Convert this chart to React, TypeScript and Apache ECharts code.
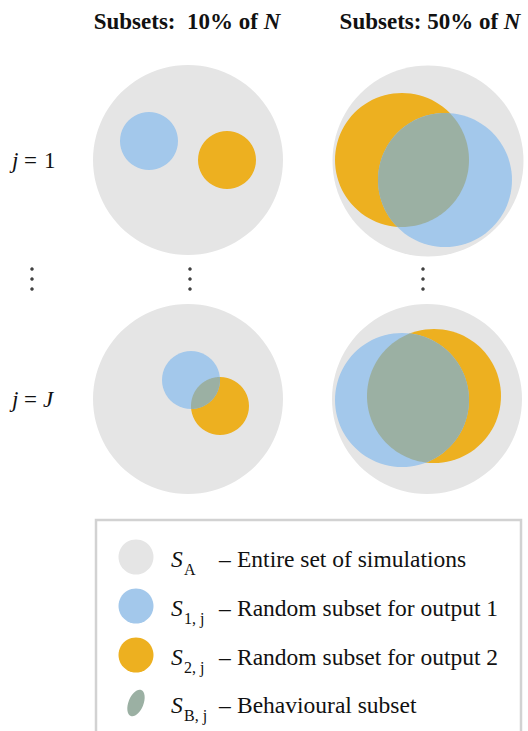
import React, { useEffect, useRef } from "react";
import * as echarts from "echarts";

// ---- data (pixel-like units on a hidden 528 x 731 value scale) ----
const columnTitles = ["Subsets:  10% of ", "Subsets: 50% of "];
const rowLabelsRight = ["1", "J"];
// [cx, cy, r] for each panel: top-left, top-right, bottom-left, bottom-right
const entireSet = [
  [188, 160, 95],
  [428, 161, 95.5],
  [188, 399, 95],
  [427, 399, 95],
];
const subset1 = [
  [149, 141, 29],
  [445, 180, 67],
  [191, 380, 29],
  [402, 400, 67],
];
const subset2 = [
  [227, 160, 29],
  [402, 160, 67],
  [220, 406, 29],
  [434, 396, 67],
];
const ellipsisDots = [
  [32, 269], [32, 279], [32, 289],
  [190, 269], [190, 279], [190, 289],
  [423, 269], [423, 279], [423, 289],
];
const legendSubscripts = ["A", "1, j", "2, j", "B, j"];
const legendDescriptions = [
  "Entire set of simulations",
  "Random subset for output 1",
  "Random subset for output 2",
  "Behavioural subset",
];

const GRAY = "#E5E5E5";
const BLUE = "#A3C8EB";
const ORANGE = "#EDB020";
const GREEN = "#9BB0A3";
const FONT = "Liberation Serif";

function circleSeries(data: number[][], color: string) {
  return {
    type: "custom",
    coordinateSystem: "cartesian2d",
    data,
    encode: { x: 0, y: 1 },
    silent: true,
    renderItem: (_p: any, api: any) => {
      const c = api.coord([api.value(0), api.value(1)]);
      const r = api.size([api.value(2), 0])[0];
      return { type: "circle", shape: { cx: c[0], cy: c[1], r }, style: { fill: color } };
    },
  };
}

function lensPoints(x1: number, y1: number, r1: number, x2: number, y2: number, r2: number) {
  const dx = x2 - x1, dy = y2 - y1;
  const d = Math.sqrt(dx * dx + dy * dy);
  if (d >= r1 + r2) return [];
  const phi = Math.atan2(dy, dx);
  const a1 = (r1 * r1 - r2 * r2 + d * d) / (2 * d);
  const a2 = d - a1;
  const t1 = Math.acos(Math.max(-1, Math.min(1, a1 / r1)));
  const t2 = Math.acos(Math.max(-1, Math.min(1, a2 / r2)));
  const pts: number[][] = [];
  const n = 80;
  for (let i = 0; i <= n; i++) {
    const ang = phi - t1 + (2 * t1 * i) / n;
    pts.push([x1 + r1 * Math.cos(ang), y1 + r1 * Math.sin(ang)]);
  }
  for (let i = 0; i <= n; i++) {
    const ang = phi + Math.PI - t2 + (2 * t2 * i) / n;
    pts.push([x2 + r2 * Math.cos(ang), y2 + r2 * Math.sin(ang)]);
  }
  return pts;
}

const lensData = subset1.map((s, i) => [...s, ...subset2[i]]);

export default function App() {
  const ref = useRef<HTMLDivElement>(null);
  useEffect(() => {
    document.body.style.margin = "0";
    const chart = echarts.init(ref.current!, null, { renderer: "svg" });

    const graphic: any[] = [];
    // column titles
    const titleX = [187, 430];
    columnTitles.forEach((t, i) => {
      graphic.push({
        type: "text",
        x: titleX[i],
        y: 21,
        style: {
          text: `{b|${t}}{bi|N}`,
          align: "center",
          verticalAlign: "middle",
          rich: {
            b: { fontFamily: FONT, fontWeight: "bold", fontSize: 23, fill: "#111" },
            bi: { fontFamily: FONT, fontWeight: "bold", fontStyle: "italic", fontSize: 23, fill: "#111" },
          },
        },
      });
    });
    // row labels
    const rowY = [160, 399];
    rowLabelsRight.forEach((r, i) => {
      graphic.push({
        type: "text", x: 12, y: rowY[i],
        style: { text: "j", fontFamily: FONT, fontStyle: "italic", fontSize: 23, fill: "#111", verticalAlign: "middle" },
      });
      graphic.push({
        type: "text", x: 24, y: rowY[i],
        style: { text: "=", fontFamily: FONT, fontSize: 23, fill: "#111", verticalAlign: "middle" },
      });
      graphic.push({
        type: "text", x: i === 0 ? 44 : 43, y: rowY[i],
        style: {
          text: r, fontFamily: FONT, fontStyle: i === 0 ? "normal" : "italic",
          fontSize: 23, fill: "#111", verticalAlign: "middle",
        },
      });
    });
    // legend box
    graphic.push({
      type: "rect",
      shape: { x: 96, y: 520, width: 425, height: 260 },
      style: { fill: "#fff", stroke: "#D2D2D2", lineWidth: 2.5 },
      z: -1,
    });
    const rowCY = [557, 606, 655, 703];
    const iconColors = [GRAY, BLUE, ORANGE];
    legendSubscripts.forEach((sub, i) => {
      const cy = rowCY[i];
      if (i < 3) {
        graphic.push({ type: "circle", shape: { cx: 136, cy, r: 17.5 }, style: { fill: iconColors[i] } });
      } else {
        graphic.push({
          type: "ellipse",
          x: 136,
          y: cy,
          rotation: -0.38,
          shape: { cx: 0, cy: 0, rx: 7.5, ry: 14 },
          style: { fill: GREEN },
        });
      }
      graphic.push({
        type: "text",
        x: 171,
        y: cy + 2,
        style: { text: "S", fontFamily: FONT, fontStyle: "italic", fontSize: 23.5, fill: "#111", verticalAlign: "middle" },
      });
      graphic.push({
        type: "text",
        x: 184,
        y: cy + 12,
        style: { text: sub, fontFamily: FONT, fontSize: 16, fill: "#111", verticalAlign: "middle" },
      });
      graphic.push({
        type: "text",
        x: 219,
        y: cy + 2,
        style: { text: "–", fontFamily: FONT, fontSize: 23.5, fill: "#111", verticalAlign: "middle" },
      });
      graphic.push({
        type: "text",
        x: 237,
        y: cy + 2,
        style: { text: legendDescriptions[i], fontFamily: FONT, fontSize: 23.5, fill: "#111", verticalAlign: "middle" },
      });
    });

    chart.setOption({
      animation: false,
      grid: { left: 0, right: 0, top: 0, bottom: 0 },
      xAxis: { type: "value", min: 0, max: 528, show: false },
      yAxis: { type: "value", min: 0, max: 731, inverse: true, show: false },
      graphic,
      series: [
        circleSeries(entireSet, GRAY),
        circleSeries(subset2, ORANGE),
        circleSeries(subset1, BLUE),
        {
          type: "custom",
          coordinateSystem: "cartesian2d",
          data: lensData,
          encode: { x: 0, y: 1 },
          silent: true,
          renderItem: (_p: any, api: any) => {
            const c1 = api.coord([api.value(0), api.value(1)]);
            const r1 = api.size([api.value(2), 0])[0];
            const c2 = api.coord([api.value(3), api.value(4)]);
            const r2 = api.size([api.value(5), 0])[0];
            const pts = lensPoints(c1[0], c1[1], r1, c2[0], c2[1], r2);
            if (!pts.length) return null;
            return { type: "polygon", shape: { points: pts }, style: { fill: GREEN } };
          },
        },
        {
          type: "scatter",
          data: ellipsisDots,
          symbol: "circle",
          symbolSize: 3.5,
          itemStyle: { color: "#111" },
          silent: true,
        },
      ],
    });
    return () => chart.dispose();
  }, []);
  return <div ref={ref} style={{ width: 528, height: 731 }} />;
}
